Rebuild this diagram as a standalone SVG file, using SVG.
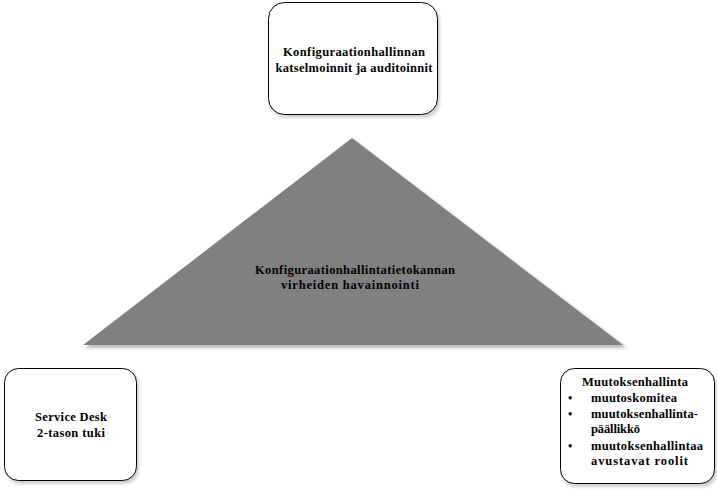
<svg xmlns="http://www.w3.org/2000/svg" width="717" height="489" viewBox="0 0 717 489">
<defs>
<style>
.box{fill:#fff;stroke:#000;stroke-width:1}
.sh{fill:#d0d0d0}
.c{text-anchor:middle}
.t{font-family:'Liberation Serif','Times New Roman',serif;font-weight:bold;font-size:12.5px;fill:#000}
</style>
<filter id="blur" x="-5%" y="-5%" width="110%" height="110%"><feGaussianBlur stdDeviation="1.5"/></filter>
</defs>
<rect width="717" height="489" fill="#fff"/>
<g class="t">
<g id="triangle">
<polygon points="354,140 627,348 85,348" fill="#bbb" filter="url(#blur)"/>
<polygon points="352,138 623,345 83,345" fill="#808080"/>
<text class="c" x="355" y="274" textLength="200" lengthAdjust="spacing">Konfiguraationhallintatietokannan</text>
<text class="c" x="350" y="289" textLength="138" lengthAdjust="spacing">virheiden havainnointi</text>
</g>
<g id="top">
<rect class="sh" x="270" y="5" width="170" height="113" rx="16" filter="url(#blur)"/>
<rect class="box" x="268.5" y="2.5" width="169" height="112" rx="16"/>
<text class="c" x="354" y="56" textLength="142" lengthAdjust="spacing">Konfiguraationhallinnan</text>
<text class="c" x="354" y="72" textLength="157" lengthAdjust="spacing">katselmoinnit ja auditoinnit</text>
</g>
<g id="left">
<rect class="sh" x="6" y="371" width="133" height="113" rx="14" filter="url(#blur)"/>
<rect class="box" x="4.5" y="368.5" width="132" height="112" rx="14"/>
<text class="c" x="71" y="421" textLength="72" lengthAdjust="spacing">Service Desk</text>
<text class="c" x="71" y="437" textLength="68" lengthAdjust="spacing">2-tason tuki</text>
</g>
<g id="right">
<rect class="sh" x="562" y="371" width="155" height="116" rx="14" filter="url(#blur)"/>
<rect class="box" x="560.5" y="368.5" width="154" height="115" rx="14"/>
<text x="582" y="386" textLength="106" lengthAdjust="spacing">Muutoksenhallinta</text>
<text x="568" y="402">•</text><text x="591" y="402" textLength="86" lengthAdjust="spacing">muutoskomitea</text>
<text x="568" y="418">•</text><text x="591" y="418" textLength="107" lengthAdjust="spacing">muutoksenhallinta-</text>
<text x="591" y="433" textLength="49" lengthAdjust="spacing">päällikkö</text>
<text x="568" y="450">•</text><text x="591" y="450" textLength="112" lengthAdjust="spacing">muutoksenhallintaa</text>
<text x="591" y="465" textLength="97" lengthAdjust="spacing">avustavat roolit</text>
</g>
</g>
<g id="connectors"/>
</svg>
